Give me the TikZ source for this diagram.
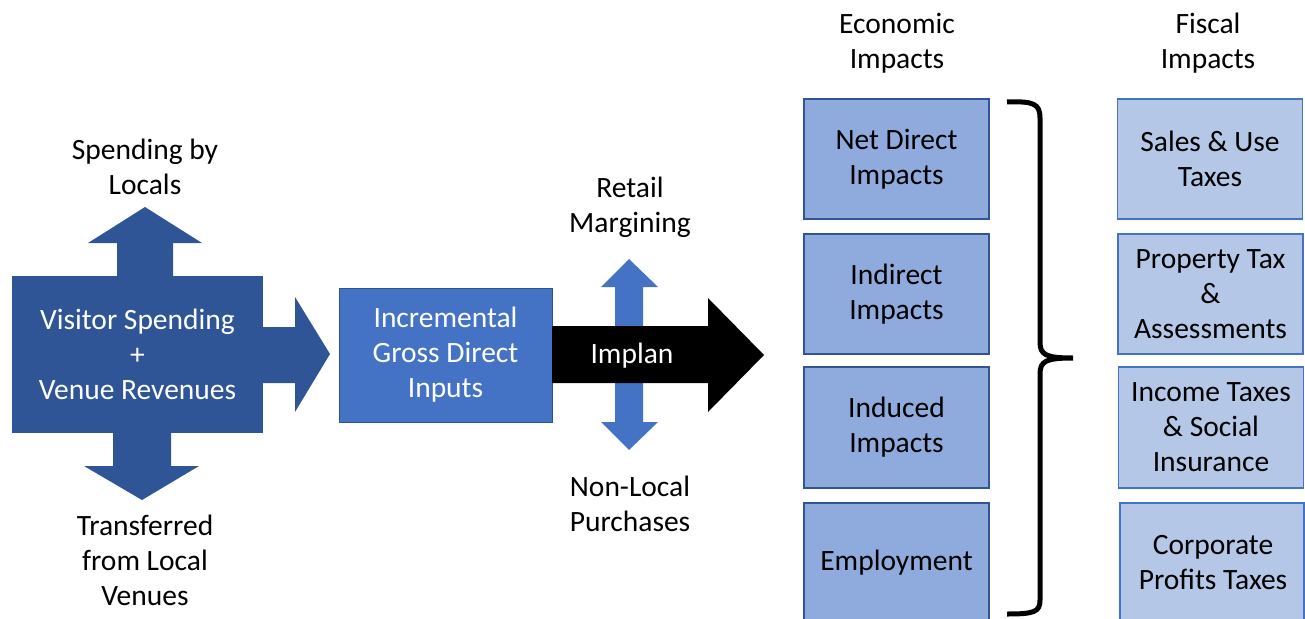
\documentclass[tikz,border=0pt]{standalone}
\usepackage{fontspec}
\setmainfont{Carlito}
\definecolor{dkblue}{HTML}{2F5597}
\definecolor{mdblue}{HTML}{4472C4}
\definecolor{mdborder}{HTML}{2F528F}
\definecolor{ecoblue}{HTML}{8FAADC}
\definecolor{fisblue}{HTML}{B4C7E7}
\begin{document}
\begin{tikzpicture}[x=1pt,y=-1pt,
  txt/.style={align=center,font=\fontsize{29.5}{35}\selectfont,inner sep=0pt},
  wtxt/.style={txt,text=white},
  ecobox/.style={draw=dkblue,line width=1.2pt,fill=ecoblue,minimum width=185pt,inner sep=0pt,txt},
  fisbox/.style={draw=mdblue,line width=1.2pt,fill=fisblue,minimum width=185pt,inner sep=0pt,txt}]
\useasboundingbox (0,0) rectangle (1305,618);
% left cluster arrows
\fill[dkblue] (117,276) -- (117,243) -- (88,243) -- (145,207) -- (202,243) -- (173,243) -- (173,276) -- cycle;
\fill[dkblue] (113,433) -- (113,466) -- (84,466) -- (142,500) -- (199,466) -- (171,466) -- (171,433) -- cycle;
\fill[dkblue] (262,327) -- (295,327) -- (295,297) -- (330,354) -- (295,412) -- (295,383) -- (262,383) -- cycle;
\node[fill=dkblue,minimum width=251pt,minimum height=157pt,inner sep=0pt,wtxt] (vis) at (137.5,354.5) {Visitor Spending\\+\\Venue Revenues};
% incremental
\node[draw=mdborder,line width=1pt,fill=mdblue,minimum width=213pt,minimum height=134pt,inner sep=0pt,wtxt] (inc) at (445.5,355) {Incremental\\Gross Direct\\Inputs};
% blue double arrow
\fill[mdblue] (615,287) -- (601,287) -- (629,259) -- (658,287) -- (643,287) -- (643,422) -- (658,422) -- (629,450) -- (601,422) -- (615,422) -- cycle;
% black arrow
\fill[black] (552,326) -- (708,326) -- (708,298) -- (764,355) -- (708,412) -- (708,383) -- (552,383) -- cycle;
\node[wtxt] (impl) at (632,356) {Implan};
% labels
\node[txt] (loc) at (145,167) {Spending by\\Locals};
\node[txt] (trans) at (145,560) {Transferred\\from Local\\Venues};
\node[txt] (ret) at (630,207) {Retail\\Margining};
\node[txt] (nonl) at (630,504) {Non-Local\\Purchases};
\node[txt] (econ) at (897,43) {Economic\\Impacts};
\node[txt] (fisc) at (1208,43) {Fiscal\\Impacts};
% economic boxes
\node[ecobox,minimum height=120pt] (e1) at (896.5,159) {Net Direct\\Impacts};
\node[ecobox,minimum height=120pt] (e2) at (896.5,294) {Indirect\\Impacts};
\node[ecobox,minimum height=121pt] (e3) at (896.5,427.5) {Induced\\Impacts};
\draw[draw=dkblue,line width=1.2pt,fill=ecoblue] (804,630) -- (804,503) -- (989,503) -- (989,630);
\node[txt] (e4) at (896.5,563) {Employment};
% fiscal boxes
\node[fisbox,minimum height=120pt] (f1) at (1210,159) {Sales \& Use\\Taxes};
\node[fisbox,minimum height=120pt] (f2) at (1210.5,294) {Property Tax\\\&\\Assessments};
\node[fisbox,minimum height=121pt] (f3) at (1211,427.5) {Income Taxes\\\& Social\\Insurance};
\draw[draw=mdblue,line width=1.2pt,fill=fisblue] (1120,630) -- (1120,503) -- (1304,503) -- (1304,630);
\node[txt] (f4) at (1213,563) {Corporate\\Profits Taxes};
% brace
\draw[line width=5pt] (1007,102) .. controls (1034,101) and (1040,104) .. (1040,118)
  -- (1040,342) .. controls (1040,355) and (1046,358) .. (1073,358)
  .. controls (1046,358) and (1040,361) .. (1040,374)
  -- (1040,600) .. controls (1040,612) and (1034,614) .. (1007,614);
\end{tikzpicture}
\end{document}
